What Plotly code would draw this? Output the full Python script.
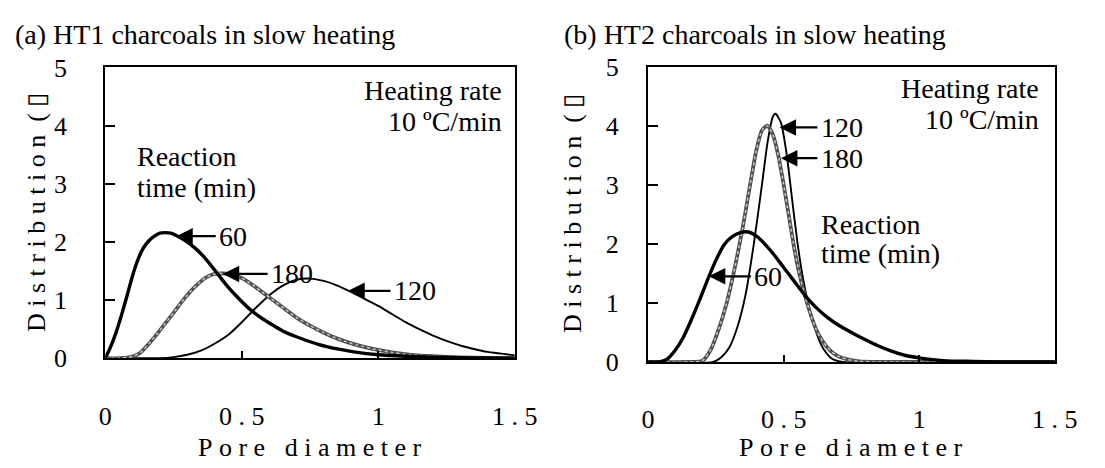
import plotly.graph_objects as go

FONT = "Liberation Serif"

# ---------------- data (a) HT1 ----------------
a60_x = [0, 0.02, 0.04, 0.06, 0.08, 0.10, 0.12, 0.14, 0.16, 0.18, 0.20, 0.22, 0.24, 0.26, 0.29, 0.33, 0.36,
         0.40, 0.44, 0.48, 0.53, 0.57, 0.61, 0.65, 0.70, 0.78, 0.85, 0.91, 1.0, 1.1, 1.2, 1.3, 1.4, 1.5]
a60_y = [0, 0.2, 0.45, 0.75, 1.08, 1.42, 1.7, 1.9, 2.02, 2.1, 2.15, 2.16, 2.15, 2.11, 2.03, 1.89, 1.75,
         1.52, 1.28, 1.07, 0.84, 0.70, 0.58, 0.47, 0.37, 0.24, 0.16, 0.11, 0.06, 0.035, 0.02, 0.01, 0.005, 0]

a120_x = [0, 0.15, 0.2, 0.25, 0.3, 0.35, 0.4, 0.45, 0.5, 0.55, 0.6, 0.65, 0.7, 0.75, 0.8, 0.85, 0.9, 0.95,
          1.0, 1.05, 1.1, 1.15, 1.2, 1.25, 1.3, 1.35, 1.4, 1.45, 1.5]
a120_y = [0, 0, 0.0, 0.02, 0.06, 0.13, 0.25, 0.4, 0.62, 0.86, 1.08, 1.25, 1.35, 1.37, 1.33, 1.25, 1.14, 1.02,
          0.9, 0.76, 0.62, 0.5, 0.39, 0.3, 0.22, 0.16, 0.11, 0.08, 0.05]

a180_x = [0, 0.05, 0.10, 0.13, 0.16, 0.19, 0.22, 0.25, 0.28, 0.31, 0.34, 0.37, 0.40, 0.43, 0.46, 0.50, 0.54,
          0.58, 0.62, 0.66, 0.70, 0.75, 0.80, 0.86, 0.92, 0.98, 1.05, 1.12, 1.2, 1.3, 1.4, 1.5]
a180_y = [0, 0.0, 0.03, 0.1, 0.25, 0.42, 0.6, 0.78, 0.97, 1.14, 1.28, 1.39, 1.45, 1.46, 1.44, 1.38, 1.26,
          1.12, 0.98, 0.84, 0.7, 0.56, 0.44, 0.32, 0.23, 0.16, 0.1, 0.06, 0.035, 0.015, 0.005, 0]

# ---------------- data (b) HT2 ----------------
b60_x = [0, 0.04, 0.07, 0.1, 0.13, 0.16, 0.19, 0.22, 0.25, 0.28, 0.31, 0.34, 0.37, 0.4, 0.43, 0.46, 0.5,
         0.54, 0.58, 0.62, 0.66, 0.7, 0.75, 0.8, 0.85, 0.9, 0.95, 1.0, 1.05, 1.1, 1.2, 1.3, 1.5]
b60_y = [0, 0.0, 0.05, 0.2, 0.42, 0.72, 1.05, 1.4, 1.72, 1.98, 2.12, 2.19, 2.2, 2.13, 2.0, 1.84, 1.6,
         1.36, 1.12, 0.92, 0.76, 0.63, 0.5, 0.38, 0.27, 0.18, 0.11, 0.07, 0.04, 0.02, 0.01, 0.0, 0]

b120_x = [0, 0.24, 0.27, 0.3, 0.33, 0.36, 0.39, 0.42, 0.44, 0.46, 0.47, 0.49, 0.51, 0.53, 0.55, 0.57,
          0.59, 0.61, 0.63, 0.65, 0.68, 0.72, 1.5]
b120_y = [0, 0, 0.08, 0.25, 0.6, 1.15, 2.0, 3.0, 3.7, 4.15, 4.2, 4.05, 3.55, 2.8, 2.05, 1.45,
          1.0, 0.65, 0.38, 0.2, 0.05, 0, 0]

b180_x = [0, 0.15, 0.2, 0.23, 0.26, 0.29, 0.32, 0.35, 0.38, 0.4, 0.42, 0.44, 0.46, 0.48, 0.5, 0.52, 0.54,
          0.56, 0.58, 0.6, 0.62, 0.64, 0.67, 0.7, 0.74, 0.78, 0.85, 1.5]
b180_y = [0, 0, 0.02, 0.2, 0.55, 1.0, 1.6, 2.3, 3.1, 3.6, 3.92, 4.0, 3.85, 3.5, 3.0, 2.45, 1.9,
          1.45, 1.1, 0.8, 0.55, 0.38, 0.2, 0.1, 0.04, 0.01, 0, 0]

NB = "\u00a0"
x_tickvals = [0, 0.5, 1, 1.5]
x_ticktext = ["0", "0" + NB + "." + NB + "5", "1", "1" + NB + "." + NB + "5"]
y_tickvals = [0, 1, 2, 3, 4, 5]

W, H = 1105, 468


def px_x(p):
    return p / W


def px_y(p):
    return 1 - p / H


fig = go.Figure()


def add_set(xs60, ys60, xs120, ys120, xs180, ys180, xa, ya):
    fig.add_trace(go.Scatter(x=xs120, y=ys120, mode="lines", xaxis=xa, yaxis=ya,
                             line=dict(color="black", width=1.9, shape="spline", smoothing=0.6)))
    fig.add_trace(go.Scatter(x=xs180, y=ys180, mode="lines", xaxis=xa, yaxis=ya,
                             line=dict(color="#505050", width=3.8, shape="spline", smoothing=0.6)))
    fig.add_trace(go.Scatter(x=xs180, y=ys180, mode="lines", xaxis=xa, yaxis=ya,
                             line=dict(color="#c8c8c8", width=1.5, dash="dot", shape="spline", smoothing=0.6)))
    fig.add_trace(go.Scatter(x=xs60, y=ys60, mode="lines", xaxis=xa, yaxis=ya,
                             line=dict(color="black", width=3.4, shape="spline", smoothing=0.6)))


add_set(a60_x, a60_y, a120_x, a120_y, a180_x, a180_y, "x", "y")
add_set(b60_x, b60_y, b120_x, b120_y, b180_x, b180_y, "x2", "y2")

tickfont = dict(family=FONT, size=26, color="black")
xcommon = dict(range=[0, 1.5], tickvals=x_tickvals, ticktext=x_ticktext, ticks="inside", ticklen=7,
               tickwidth=1.5, tickcolor="black", showline=True, linewidth=2.2, linecolor="black",
               mirror=True, showgrid=False, zeroline=False, tickfont=tickfont, ticklabelstandoff=33)
ycommon = dict(range=[0, 5], tickvals=y_tickvals, ticks="inside", ticklen=10, tickwidth=1.5,
               tickcolor="black", showline=True, linewidth=2.2, linecolor="black", mirror=True,
               showgrid=False, zeroline=False, tickfont=tickfont)

fig.update_layout(
    width=W, height=H, margin=dict(l=0, r=0, t=0, b=0),
    paper_bgcolor="white", plot_bgcolor="white", showlegend=False,
    xaxis=dict(domain=[px_x(101), px_x(522)], anchor="y", **xcommon),
    yaxis=dict(domain=[px_y(367), px_y(57)], anchor="x", ticklabelstandoff=31, **ycommon),
    xaxis2=dict(domain=[px_x(659), px_x(1077)], anchor="y2", **xcommon),
    yaxis2=dict(domain=[px_y(371), px_y(56)], anchor="x2", ticklabelstandoff=22, **ycommon),
)

ann_font = dict(family=FONT, size=28, color="black")
title_font = dict(family=FONT, size=26, color="black")
annotations = []

# panel titles
annotations.append(dict(text="(a) HT1 charcoals in slow heating", xref="paper", yref="paper",
                        x=px_x(6), y=px_y(22), xanchor="left", yanchor="middle", showarrow=False,
                        font=dict(family=FONT, size=28, color="black")))
annotations.append(dict(text="(b) HT2 charcoals in slow heating", xref="paper", yref="paper",
                        x=px_x(571), y=px_y(22), xanchor="left", yanchor="middle", showarrow=False,
                        font=dict(family=FONT, size=28, color="black")))

# axis titles (letter-spaced as in the original)
xtitle = NB.join("Pore") + NB * 3 + NB.join("diameter")
ytitle = NB.join("Distribution") + NB * 2 + "(" + NB + "\u25af"
for cx in (311, 867):
    annotations.append(dict(text=xtitle, xref="paper", yref="paper", x=px_x(cx), y=px_y(462),
                            xanchor="center", yanchor="middle", showarrow=False, font=title_font))
for cx, cy in ((31, 212), (582, 213)):
    annotations.append(dict(text=ytitle, xref="paper", yref="paper", x=px_x(cx), y=px_y(cy),
                            xanchor="center", yanchor="middle", showarrow=False, textangle=-90,
                            font=title_font))


def label_block(xa, ya, x_right, y1, y2, x_left, y3, y4):
    annotations.append(dict(text="Heating rate", xref=xa, yref=ya, x=x_right, y=y1, xanchor="right",
                            yanchor="middle", showarrow=False, font=ann_font))
    annotations.append(dict(text="10 \u00baC/min", xref=xa, yref=ya, x=x_right, y=y2, xanchor="right",
                            yanchor="middle", showarrow=False, font=ann_font))
    annotations.append(dict(text="Reaction", xref=xa, yref=ya, x=x_left, y=y3, xanchor="left",
                            yanchor="middle", showarrow=False, font=ann_font))
    annotations.append(dict(text="time (min)", xref=xa, yref=ya, x=x_left, y=y4, xanchor="left",
                            yanchor="middle", showarrow=False, font=ann_font))


label_block("x", "y", 1.46, 4.6, 4.07, 0.11, 3.47, 2.93)
label_block("x2", "y2", 1.45, 4.62, 4.1, 0.63, 2.32, 1.84)


def arrow_label(xa, ya, tip_x, tip_y, tail_x, text):
    annotations.append(dict(text="", xref=xa, yref=ya, x=tip_x, y=tip_y, axref=xa, ayref=ya,
                            ax=tail_x, ay=tip_y, showarrow=True, arrowhead=2, arrowsize=1.5,
                            arrowwidth=2.2, arrowcolor="black"))
    annotations.append(dict(text=text, xref=xa, yref=ya, x=tail_x, y=tip_y, xanchor="left",
                            yanchor="middle", showarrow=False, font=ann_font, xshift=0))


arrow_label("x", "y", 0.26, 2.1, 0.41, "60")
arrow_label("x", "y", 0.43, 1.45, 0.6, "180")
arrow_label("x", "y", 0.89, 1.16, 1.05, "120")
arrow_label("x2", "y2", 0.485, 3.97, 0.63, "120")
arrow_label("x2", "y2", 0.49, 3.45, 0.63, "180")
arrow_label("x2", "y2", 0.224, 1.45, 0.385, "60")

fig.update_layout(annotations=annotations)

fig.write_html("out.html")
